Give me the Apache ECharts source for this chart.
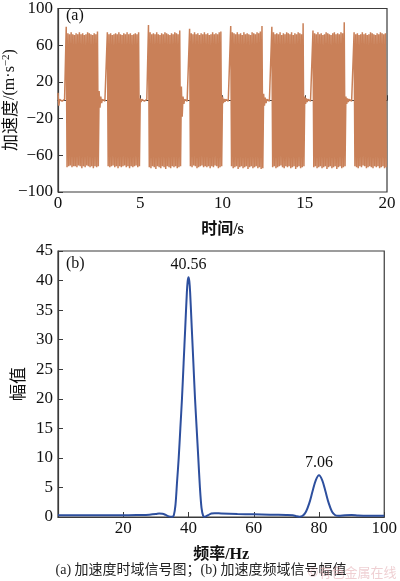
<!DOCTYPE html>
<html>
<head>
<meta charset="utf-8">
<script src="https://cdn.jsdelivr.net/npm/echarts@6/dist/echarts.min.js"></script>
<style>
html,body{margin:0;padding:0;background:#fff;}
#c{width:400px;height:581px;}
</style>
</head>
<body>
<div id="c"></div>
<script>
// ---------- (a) time-domain acceleration: envelope per 0.1 s bin (max / min) ----------
const binWidth = 0.1; // s
const accHi = [
  8,1,1,1,1, 80,73,72,74,72,
  71,73,72,74,72,73,71,72,74,73,
  72,71,73,72,75, 10,4,1,1,1,
  74,72,73,71,72,73,72,74,72,71,
  73,72,74,72,73,71,72,73,72,74,
  2,1,1,1,1, 82,74,72,73,72,
  74,72,71,73,72,74,73,72,71,73,
  72,74,73,72,76, 15,4,1,1,1,
  78,73,72,74,72,73,71,73,72,74,
  72,73,71,72,74,72,73,72,74,75,
  4,1.5,1,1,1, 81,74,73,72,74,
  72,73,71,74,72,73,72,71,74,73,
  72,74,73,75,81, 7,3,1,1,1,
  80,74,72,73,72,74,71,73,72,74,
  73,72,74,71,73,72,74,73,72,84,
  4,2,1,1,1, 76,73,72,74,72,
  73,71,72,74,73,72,71,73,74,72,
  73,72,74,73,85, 4,2,1,1,1,
  74,72,73,71,72,74,72,73,71,72,
  74,73,72,71,73,72,74,73,72,73
];
const accLo = [
  -6,-1,-1,-1,-1, -73,-72,-71,-73,-72,
  -72,-73,-71,-72,-74,-72,-73,-71,-72,-73,
  -72,-74,-72,-73,-72, -8,-3,-1,-1,-1,
  -72,-73,-72,-71,-73,-72,-74,-72,-73,-72,
  -71,-73,-72,-74,-72,-73,-72,-71,-73,-72,
  -2,-1,-1,-1,-1, -73,-74,-72,-73,-75,
  -72,-73,-74,-72,-73,-75,-72,-73,-74,-72,
  -73,-72,-74,-73,-72, -18,-4,-1,-1,-1,
  -72,-73,-71,-72,-74,-73,-72,-71,-73,-72,
  -73,-72,-74,-72,-73,-71,-72,-74,-73,-72,
  -3,-1.5,-1,-1,-1, -72,-74,-73,-72,-75,
  -73,-72,-74,-73,-72,-75,-73,-72,-74,-73,
  -72,-74,-73,-75,-74, -6,-3,-1,-1,-1,
  -73,-72,-74,-73,-72,-71,-73,-74,-72,-73,
  -72,-74,-73,-72,-75,-73,-72,-74,-73,-72,
  -4,-2,-1,-1,-1, -73,-72,-74,-73,-72,
  -74,-73,-72,-75,-73,-72,-74,-73,-72,-75,
  -73,-72,-74,-73,-72, -4,-2,-1,-1,-1,
  -72,-73,-74,-72,-73,-71,-72,-74,-73,-72,
  -73,-74,-72,-73,-72,-74,-73,-72,-74,-73
];
const timeTicks = [0, 5, 10, 15, 20];
const accTicks = [-100, -60, -20, 20, 60, 100];

// ---------- (b) frequency-domain amplitude ----------
const freqHz = [0,5,10,15,20,25,28,30,31,32,33,34,35,35.5,36,36.5,37,37.5,38,38.5,39,39.5,39.75,40,40.25,40.5,41,41.5,42,42.5,43,43.5,44,44.5,45,46,47,48,50,55,60,65,70,72,73,74,75,76,77,78,79,80,81,82,83,84,85,86,88,90,92,95,100];
const amp    = [0.3,0.3,0.3,0.3,0.3,0.35,0.4,0.5,0.6,0.55,0.35,0.1,0.05,0.3,2,6,10,15,20,26,32,38,39.9,40.56,39.9,38,32,26,20,15,10,5,1.5,0.2,0.05,0.3,0.6,0.65,0.6,0.5,0.45,0.4,0.35,0.3,0.15,0.05,0.2,0.9,2.3,4.3,6.2,7.06,6.2,4.3,2.3,0.9,0.3,0.2,0.3,0.35,0.25,0.2,0.2];
const peakFreq = [40, 80];
const peakAmp = [40.56, 7.06];
const peakText = ['40.56', '7.06'];

// build envelope line (max then min within each bin)
const accData = [];
for (let i = 0; i < accHi.length; i++) {
  const t = i * binWidth;
  accData.push([t, accHi[i]]);
  accData.push([t + binWidth / 2, accLo[i]]);
}

const serif = "'Liberation Serif','Times New Roman','Noto Sans CJK SC',serif";
const axisColor = '#3a3a3a';
const chart = echarts.init(document.getElementById('c'), null, {renderer: 'canvas'});

const labelStyle = {color: '#111', fontFamily: serif, fontSize: 17};

chart.setOption({
  animation: false,
  backgroundColor: '#fff',
  grid: [
    {left: 58, top: 6, width: 329, height: 186, show: true, borderColor: axisColor, borderWidth: 1.2, backgroundColor: 'transparent'},
    {left: 58, top: 251, width: 329, height: 266, show: true, borderColor: axisColor, borderWidth: 1.2, backgroundColor: 'transparent'}
  ],
  xAxis: [
    {gridIndex: 0, type: 'value', min: 0, max: 20, interval: 5,
     axisLine: {show: true, lineStyle: {color: axisColor, width: 1.2}},
     axisTick: {show: true, inside: true, length: 5, lineStyle: {color: axisColor}},
     axisLabel: Object.assign({margin: 3}, labelStyle),
     splitLine: {show: false},
     name: '时间/s', nameLocation: 'middle', nameGap: 30,
     nameTextStyle: {fontFamily: serif, fontSize: 16, fontWeight: 'bold', color: '#111'}},
    {gridIndex: 1, type: 'value', min: 0, max: 100, interval: 20,
     axisLine: {show: true, lineStyle: {color: axisColor, width: 1.2}},
     axisTick: {show: true, inside: true, length: 5, lineStyle: {color: axisColor}},
     axisLabel: Object.assign({margin: 3, showMinLabel: false}, labelStyle),
     splitLine: {show: false},
     name: '频率/Hz', nameLocation: 'middle', nameGap: 30,
     nameTextStyle: {fontFamily: serif, fontSize: 16, fontWeight: 'bold', color: '#111'}}
  ],
  yAxis: [
    {gridIndex: 0, type: 'value', min: -100, max: 100,
     axisLine: {show: true, lineStyle: {color: axisColor, width: 1.2}},
     axisTick: {show: true, inside: true, length: 5, lineStyle: {color: axisColor}, customValues: accTicks},
     axisLabel: Object.assign({margin: 5, customValues: accTicks, formatter: v => (v < 0 ? '\u2212' + Math.abs(v) : '' + v)}, labelStyle),
     splitLine: {show: false}},
    {gridIndex: 1, type: 'value', min: 0, max: 45, interval: 5,
     axisLine: {show: true, lineStyle: {color: axisColor, width: 1.2}},
     axisTick: {show: true, inside: true, length: 5, lineStyle: {color: axisColor}},
     axisLabel: Object.assign({margin: 5}, labelStyle),
     splitLine: {show: false}}
  ],
  series: [
    {type: 'line', xAxisIndex: 0, yAxisIndex: 0, data: accData, showSymbol: false, symbol: 'none',
     lineStyle: {color: '#c98058', width: 1.5}, silent: true, clip: true},
    {type: 'line', xAxisIndex: 1, yAxisIndex: 1, data: freqHz.map((f, i) => [f, amp[i]]),
     showSymbol: false, symbol: 'none', smooth: 0.3,
     lineStyle: {color: '#2d4f9e', width: 2}, silent: true,
     markPoint: {
       symbol: 'circle', symbolSize: 0, silent: true,
       label: {show: true, position: 'top', distance: 4, fontFamily: serif, fontSize: 16, color: '#111',
               formatter: p => p.name},
       data: peakFreq.map((f, i) => ({name: peakText[i], coord: [f, peakAmp[i]], value: peakAmp[i]}))
     }}
  ],
  graphic: [
    {type: 'text', left: 66, top: 8, style: {text: '(a)', font: '16px ' + serif, fill: '#111'}},
    {type: 'text', left: 66, top: 256, style: {text: '(b)', font: '16px ' + serif, fill: '#111'}},
    {type: 'text', x: 10, y: 100, rotation: Math.PI / 2,
     style: {text: '{c|加速度}{t|/(m·s}{s|−2}{t|)}', align: 'center', verticalAlign: 'middle',
       rich: {c: {fontFamily: 'Noto Sans CJK SC', fontSize: 17, fill: '#111'},
              t: {fontFamily: serif, fontSize: 16, fill: '#111'},
              s: {fontFamily: serif, fontSize: 11, fill: '#111', verticalAlign: 'top', padding: [0,0,8,0]}}}},
    {type: 'text', x: 18, y: 384, rotation: Math.PI / 2,
     style: {text: '幅值', align: 'center', verticalAlign: 'middle', font: '17px "Noto Sans CJK SC"', fill: '#111'}},
    {type: 'text', x: 201, y: 570,
     style: {text: '(a) 加速度时域信号图；(b) 加速度频域信号幅值', align: 'center', verticalAlign: 'middle',
       font: '14px ' + serif, fill: '#222'}},
    {type: 'text', x: 352, y: 572,
     style: {text: '©有色金属在线', align: 'center', verticalAlign: 'middle',
       font: '13px "Noto Sans CJK SC"', fill: 'rgba(225,170,175,0.55)'}}
  ]
});
</script>
</body>
</html>
